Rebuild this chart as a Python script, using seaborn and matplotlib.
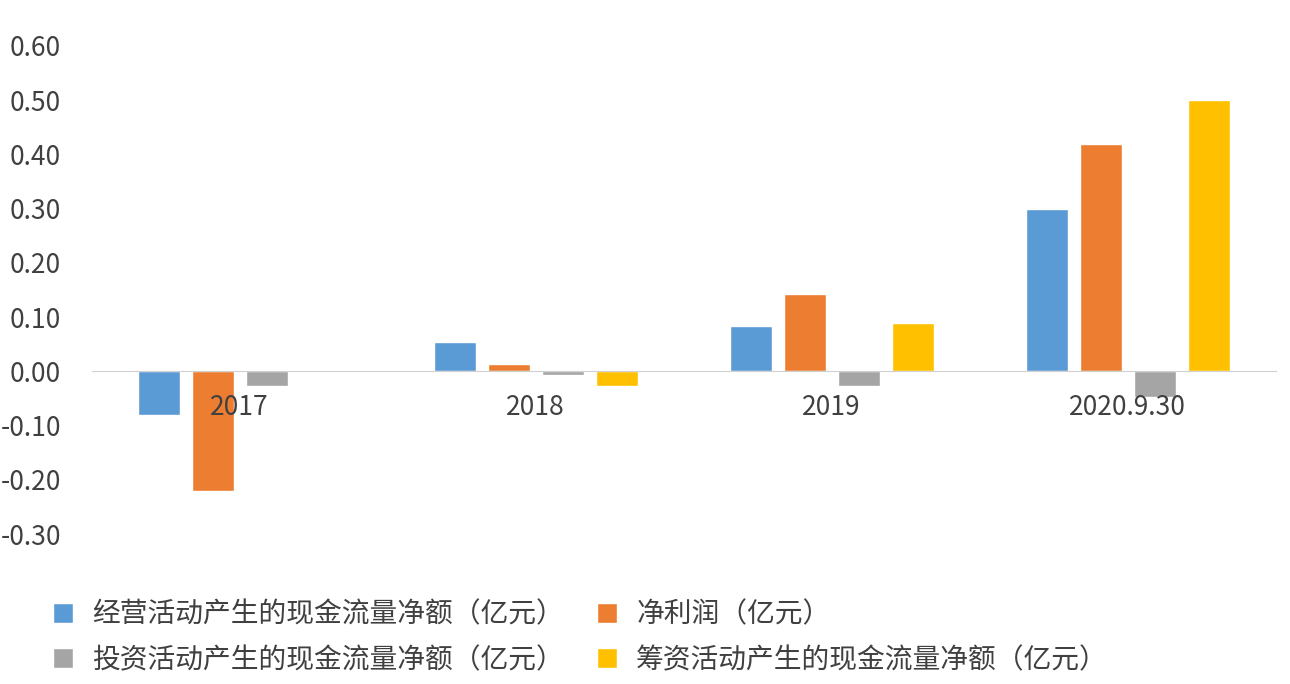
import pandas as pd
import matplotlib
matplotlib.use("Agg")
import matplotlib.pyplot as plt
import seaborn as sns

# data
periods = ["2017", "2018", "2019", "2020.9.30"]
series = ["经营活动产生的现金流量净额（亿元）", "净利润（亿元）",
          "投资活动产生的现金流量净额（亿元）", "筹资活动产生的现金流量净额（亿元）"]
operating = [-0.08, 0.054, 0.083, 0.30]
net_profit = [-0.22, 0.013, 0.142, 0.42]
investing = [-0.026, -0.006, -0.026, -0.048]
financing = [0.0, -0.026, 0.09, 0.50]
colors = ["#5B9BD5", "#ED7D31", "#A5A5A5", "#FFC000"]

rows = []
for name, vals in zip(series, [operating, net_profit, investing, financing]):
    for p, v in zip(periods, vals):
        rows.append({"period": p, "series": name, "value": v})
df = pd.DataFrame(rows)

sns.set_style("white")
plt.rcParams['font.family'] = ['Noto Sans CJK SC', 'DejaVu Sans']

fig = plt.figure(figsize=(12.9, 6.84), dpi=100)
ax = fig.add_axes([0.071, 0.219, 0.918, 0.714])
sns.barplot(data=df, x="period", y="value", hue="series", palette=colors,
            saturation=1, width=0.73, gap=0.22, ax=ax)

ax.set_ylim(-0.3, 0.6)
ax.set_yticks([i / 10 for i in range(-3, 7)])
ax.set_yticklabels([f"{i / 10:.2f}" for i in range(-3, 7)])
ax.set_xlim(-0.5, 3.5)
ax.set_xlabel("")
ax.set_ylabel("")
for s in ["top", "right", "left"]:
    ax.spines[s].set_visible(False)
ax.spines["bottom"].set_position(("data", 0))
ax.spines["bottom"].set_color("#D0D0D0")
ax.xaxis.set_zorder(5)
ax.tick_params(axis="x", length=0, pad=16, labelsize=19, labelcolor="#404040")
ax.tick_params(axis="y", length=0, pad=22, labelsize=19, labelcolor="#404040")

handles, labels = ax.get_legend_handles_labels()
ax.get_legend().remove()
order = [0, 2, 1, 3]  # legend fills column-wise; keep reference row order
fig.legend([handles[i] for i in order], [labels[i] for i in order],
           loc="upper left", bbox_to_anchor=(0.022, 0.16), ncol=2,
           frameon=False, fontsize=20, handlelength=0.7, handleheight=0.7,
           columnspacing=1.2, handletextpad=0.7, labelspacing=0.55,
           labelcolor="#404040")

fig.savefig("out.png", dpi=100)
